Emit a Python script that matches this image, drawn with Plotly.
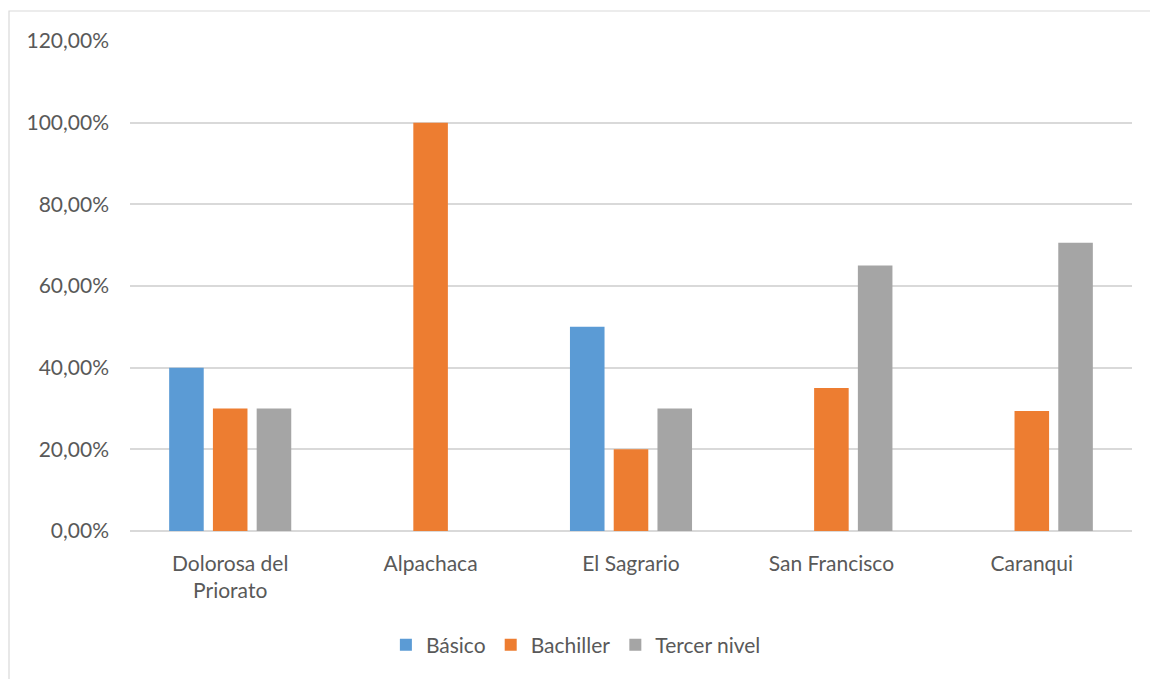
import plotly.graph_objects as go

# Parroquias y nivel de instrucción (proporciones)
categorias = ["Dolorosa del<br>Priorato", "Alpachaca", "El Sagrario", "San Francisco", "Caranqui"]
basico = [0.40, 0.0, 0.50, 0.0, 0.0]
bachiller = [0.30, 1.00, 0.20, 0.35, 0.2941]
tercer_nivel = [0.30, 0.0, 0.30, 0.65, 0.7059]
eje_y = [0, 0.2, 0.4, 0.6, 0.8, 1.0, 1.2]

series = [
    ("Básico", basico, "#5B9BD5"),
    ("Bachiller", bachiller, "#ED7D31"),
    ("Tercer nivel", tercer_nivel, "#A5A5A5"),
]

fig = go.Figure()
for nombre, valores, color in series:
    fig.add_trace(go.Bar(
        x=categorias, y=valores, name=nombre,
        marker=dict(color=color, line=dict(width=0)),
    ))

texto = "#595959"
fuente = "Lato, 'Open Sans', sans-serif"

fig.update_layout(
    width=1150, height=679,
    margin=dict(l=130, r=18, t=41, b=148),
    paper_bgcolor="white", plot_bgcolor="white",
    separators=",.",
    barmode="group", bargap=0.345, bargroupgap=0.21,
    font=dict(family=fuente, size=21, color=texto),
    showlegend=True,
    legend=dict(orientation="h", x=0.445, xanchor="center", y=-0.233, yanchor="middle",
                font=dict(size=21, color=texto), itemwidth=30, traceorder="normal",
                itemsizing="constant"),
    xaxis=dict(showgrid=False, showline=False, ticks="", tickfont=dict(size=21, color=texto),
               ticklabelstandoff=18),
    yaxis=dict(range=[0, 1.2], tickvals=eje_y, tickformat=".2%", showgrid=True,
               gridcolor="#D9D9D9", gridwidth=1.5, zeroline=True, zerolinecolor="#D9D9D9",
               zerolinewidth=1.5, showline=False, ticks="", ticklabelstandoff=20,
               tickfont=dict(size=21, color=texto)),
    shapes=[
        dict(type="rect", xref="paper", yref="paper",
             x0=(9 - 130) / 1002, x1=(1170 - 130) / 1002,
             y0=(531 - 700) / 490, y1=(531 - 11) / 490,
             line=dict(color="#D9D9D9", width=1.2), fillcolor="rgba(0,0,0,0)", layer="below"),
    ],
)

fig.write_html("out.html")
